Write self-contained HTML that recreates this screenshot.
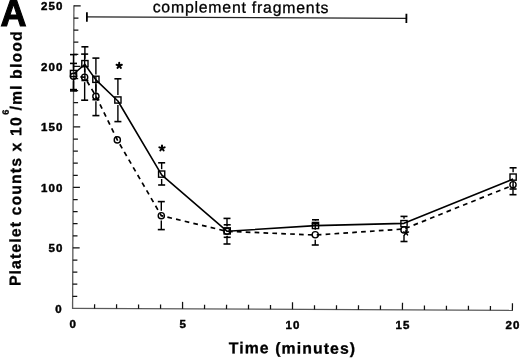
<!DOCTYPE html>
<html><head><meta charset="utf-8"><style>
html,body{margin:0;padding:0;background:#fff;}
svg{display:block;}
.ax{stroke:#5a5a5a;stroke-width:1.3;}
.tk{stroke:#111;stroke-width:1.25;}
.br{stroke:#222;stroke-width:1.2;}
.bv{stroke:#000;stroke-width:1.8;}
.eb{stroke:#000;stroke-width:1.4;}
.cap{stroke:#000;stroke-width:1.6;}
.solid{fill:none;stroke:#000;stroke-width:1.6;stroke-linejoin:round;}
.dash{fill:none;stroke:#000;stroke-width:1.7;stroke-dasharray:4.7 4.188;stroke-dashoffset:1.96;}
.mk{fill:none;stroke:#000;stroke-width:1.4;}
text{font-family:"Liberation Sans",Arial,sans-serif;fill:#000;}
.bigA{font-size:36px;font-weight:bold;stroke:#000;stroke-width:1.1px;}
.tl{font-size:11.5px;font-weight:bold;letter-spacing:1.1px;stroke:#000;stroke-width:0.45px;}
.xt{font-size:15.8px;font-weight:bold;letter-spacing:1.1px;stroke:#000;stroke-width:0.3px;}
.cf{font-size:15.8px;letter-spacing:0.8px;stroke:#000;stroke-width:0.3px;}
.yt{font-size:15.8px;font-weight:bold;letter-spacing:1.12px;stroke:#000;stroke-width:0.3px;}
.sup{font-size:9.2px;}
</style></head><body>
<svg width="520" height="359" viewBox="0 0 520 359">
<rect width="520" height="359" fill="#fff"/>
<g transform="translate(72.6,308.4) rotate(0.2475)">
<line x1="0" y1="0.6" x2="0" y2="-303.10" class="ax"/>
<line x1="-0.6" y1="0" x2="440.40" y2="0" class="ax"/>
<line x1="0" y1="-12.10" x2="4.60" y2="-12.10" class="tk"/>
<line x1="0" y1="-24.20" x2="4.60" y2="-24.20" class="tk"/>
<line x1="0" y1="-36.30" x2="4.60" y2="-36.30" class="tk"/>
<line x1="0" y1="-48.40" x2="4.60" y2="-48.40" class="tk"/>
<line x1="0" y1="-60.50" x2="6.80" y2="-60.50" class="tk"/>
<line x1="0" y1="-72.60" x2="4.60" y2="-72.60" class="tk"/>
<line x1="0" y1="-84.70" x2="4.60" y2="-84.70" class="tk"/>
<line x1="0" y1="-96.80" x2="4.60" y2="-96.80" class="tk"/>
<line x1="0" y1="-108.90" x2="4.60" y2="-108.90" class="tk"/>
<line x1="0" y1="-121.00" x2="6.80" y2="-121.00" class="tk"/>
<line x1="0" y1="-133.10" x2="4.60" y2="-133.10" class="tk"/>
<line x1="0" y1="-145.20" x2="4.60" y2="-145.20" class="tk"/>
<line x1="0" y1="-157.30" x2="4.60" y2="-157.30" class="tk"/>
<line x1="0" y1="-169.40" x2="4.60" y2="-169.40" class="tk"/>
<line x1="0" y1="-181.50" x2="6.80" y2="-181.50" class="tk"/>
<line x1="0" y1="-193.60" x2="4.60" y2="-193.60" class="tk"/>
<line x1="0" y1="-205.70" x2="4.60" y2="-205.70" class="tk"/>
<line x1="0" y1="-217.80" x2="4.60" y2="-217.80" class="tk"/>
<line x1="0" y1="-229.90" x2="4.60" y2="-229.90" class="tk"/>
<line x1="0" y1="-242.00" x2="6.80" y2="-242.00" class="tk"/>
<line x1="0" y1="-254.10" x2="4.60" y2="-254.10" class="tk"/>
<line x1="0" y1="-266.20" x2="4.60" y2="-266.20" class="tk"/>
<line x1="0" y1="-278.30" x2="4.60" y2="-278.30" class="tk"/>
<line x1="0" y1="-290.40" x2="4.60" y2="-290.40" class="tk"/>
<line x1="0" y1="-302.50" x2="6.80" y2="-302.50" class="tk"/>
<line x1="21.99" y1="0" x2="21.99" y2="-4.30" class="tk"/>
<line x1="43.98" y1="0" x2="43.98" y2="-4.30" class="tk"/>
<line x1="65.97" y1="0" x2="65.97" y2="-4.30" class="tk"/>
<line x1="87.96" y1="0" x2="87.96" y2="-4.30" class="tk"/>
<line x1="109.95" y1="0" x2="109.95" y2="-7.00" class="tk"/>
<line x1="131.94" y1="0" x2="131.94" y2="-4.30" class="tk"/>
<line x1="153.93" y1="0" x2="153.93" y2="-4.30" class="tk"/>
<line x1="175.92" y1="0" x2="175.92" y2="-4.30" class="tk"/>
<line x1="197.91" y1="0" x2="197.91" y2="-4.30" class="tk"/>
<line x1="219.90" y1="0" x2="219.90" y2="-7.00" class="tk"/>
<line x1="241.89" y1="0" x2="241.89" y2="-4.30" class="tk"/>
<line x1="263.88" y1="0" x2="263.88" y2="-4.30" class="tk"/>
<line x1="285.87" y1="0" x2="285.87" y2="-4.30" class="tk"/>
<line x1="307.86" y1="0" x2="307.86" y2="-4.30" class="tk"/>
<line x1="329.85" y1="0" x2="329.85" y2="-7.00" class="tk"/>
<line x1="351.84" y1="0" x2="351.84" y2="-4.30" class="tk"/>
<line x1="373.83" y1="0" x2="373.83" y2="-4.30" class="tk"/>
<line x1="395.82" y1="0" x2="395.82" y2="-4.30" class="tk"/>
<line x1="417.81" y1="0" x2="417.81" y2="-4.30" class="tk"/>
<line x1="439.80" y1="0" x2="439.80" y2="-7.00" class="tk"/>
<line x1="13.04" y1="-291.50" x2="332.54" y2="-291.50" class="br"/>
<line x1="13.04" y1="-296.20" x2="13.04" y2="-286.80" class="bv"/>
<line x1="332.54" y1="-296.20" x2="332.54" y2="-286.80" class="bv"/>
</g>
<line x1="73.50" y1="54.60" x2="73.50" y2="68.60" class="eb"/>
<line x1="73.50" y1="78.40" x2="73.50" y2="90.90" class="eb"/>
<line x1="70.00" y1="54.60" x2="77.00" y2="54.60" class="cap"/>
<line x1="70.00" y1="90.90" x2="77.00" y2="90.90" class="cap"/>
<line x1="84.90" y1="46.80" x2="84.90" y2="58.75" class="eb"/>
<line x1="84.90" y1="68.55" x2="84.90" y2="80.50" class="eb"/>
<line x1="81.40" y1="46.80" x2="88.40" y2="46.80" class="cap"/>
<line x1="81.40" y1="80.50" x2="88.40" y2="80.50" class="cap"/>
<line x1="95.90" y1="58.10" x2="95.90" y2="74.40" class="eb"/>
<line x1="95.90" y1="84.20" x2="95.90" y2="99.70" class="eb"/>
<line x1="92.40" y1="58.10" x2="99.40" y2="58.10" class="cap"/>
<line x1="92.40" y1="99.70" x2="99.40" y2="99.70" class="cap"/>
<line x1="117.90" y1="78.80" x2="117.90" y2="95.10" class="eb"/>
<line x1="117.90" y1="104.90" x2="117.90" y2="121.60" class="eb"/>
<line x1="114.40" y1="78.80" x2="121.40" y2="78.80" class="cap"/>
<line x1="114.40" y1="121.60" x2="121.40" y2="121.60" class="cap"/>
<line x1="161.65" y1="162.80" x2="161.65" y2="169.20" class="eb"/>
<line x1="161.65" y1="179.00" x2="161.65" y2="185.00" class="eb"/>
<line x1="158.15" y1="162.80" x2="165.15" y2="162.80" class="cap"/>
<line x1="158.15" y1="185.00" x2="165.15" y2="185.00" class="cap"/>
<line x1="227.20" y1="224.80" x2="227.20" y2="226.00" class="eb"/>
<line x1="227.20" y1="235.80" x2="227.20" y2="237.30" class="eb"/>
<line x1="223.70" y1="224.80" x2="230.70" y2="224.80" class="cap"/>
<line x1="223.70" y1="237.30" x2="230.70" y2="237.30" class="cap"/>
<line x1="315.50" y1="219.80" x2="315.50" y2="220.60" class="eb"/>
<line x1="312.00" y1="219.80" x2="319.00" y2="219.80" class="cap"/>
<line x1="404.00" y1="216.40" x2="404.00" y2="218.75" class="eb"/>
<line x1="400.50" y1="216.40" x2="407.50" y2="216.40" class="cap"/>
<line x1="513.10" y1="167.80" x2="513.10" y2="172.20" class="eb"/>
<line x1="513.10" y1="182.00" x2="513.10" y2="189.00" class="eb"/>
<line x1="509.60" y1="167.80" x2="516.60" y2="167.80" class="cap"/>
<line x1="509.60" y1="189.00" x2="516.60" y2="189.00" class="cap"/>
<line x1="73.50" y1="63.40" x2="73.50" y2="71.40" class="eb"/>
<line x1="73.50" y1="81.20" x2="73.50" y2="89.60" class="eb"/>
<line x1="70.00" y1="63.40" x2="77.00" y2="63.40" class="cap"/>
<line x1="70.00" y1="89.60" x2="77.00" y2="89.60" class="cap"/>
<line x1="84.65" y1="54.10" x2="84.65" y2="72.35" class="eb"/>
<line x1="84.65" y1="82.15" x2="84.65" y2="100.20" class="eb"/>
<line x1="81.15" y1="54.10" x2="88.15" y2="54.10" class="cap"/>
<line x1="81.15" y1="100.20" x2="88.15" y2="100.20" class="cap"/>
<line x1="95.90" y1="76.50" x2="95.90" y2="91.40" class="eb"/>
<line x1="95.90" y1="101.20" x2="95.90" y2="115.60" class="eb"/>
<line x1="92.40" y1="115.60" x2="99.40" y2="115.60" class="cap"/>
<line x1="161.30" y1="201.60" x2="161.30" y2="210.80" class="eb"/>
<line x1="161.30" y1="220.60" x2="161.30" y2="229.60" class="eb"/>
<line x1="157.80" y1="201.60" x2="164.80" y2="201.60" class="cap"/>
<line x1="157.80" y1="229.60" x2="164.80" y2="229.60" class="cap"/>
<line x1="227.00" y1="218.40" x2="227.00" y2="226.40" class="eb"/>
<line x1="227.00" y1="236.20" x2="227.00" y2="244.00" class="eb"/>
<line x1="223.50" y1="218.40" x2="230.50" y2="218.40" class="cap"/>
<line x1="223.50" y1="244.00" x2="230.50" y2="244.00" class="cap"/>
<line x1="315.25" y1="223.80" x2="315.25" y2="229.85" class="eb"/>
<line x1="315.25" y1="239.65" x2="315.25" y2="245.00" class="eb"/>
<line x1="311.75" y1="223.80" x2="318.75" y2="223.80" class="cap"/>
<line x1="311.75" y1="245.00" x2="318.75" y2="245.00" class="cap"/>
<line x1="404.00" y1="234.90" x2="404.00" y2="241.50" class="eb"/>
<line x1="400.50" y1="241.50" x2="407.50" y2="241.50" class="cap"/>
<line x1="513.00" y1="189.60" x2="513.00" y2="194.70" class="eb"/>
<line x1="509.50" y1="194.70" x2="516.50" y2="194.70" class="cap"/>
<polyline class="solid" points="73.50,74.00 84.90,64.45 95.90,79.90 117.90,101.00 161.65,174.90 227.20,231.30 315.50,225.60 404.00,223.35 513.10,179.10"/>
<polyline class="dash" points="73.50,76.30 84.65,77.25 95.90,96.10 117.30,139.90 161.30,215.70 227.00,231.30 315.25,235.05 404.00,229.00 513.00,185.20"/>
<rect x="70.40" y="70.40" width="6.2" height="6.2" class="mk"/>
<rect x="81.80" y="60.55" width="6.2" height="6.2" class="mk"/>
<rect x="92.80" y="76.20" width="6.2" height="6.2" class="mk"/>
<rect x="114.80" y="96.90" width="6.2" height="6.2" class="mk"/>
<rect x="158.55" y="171.00" width="6.2" height="6.2" class="mk"/>
<rect x="224.10" y="227.80" width="6.2" height="6.2" class="mk"/>
<rect x="312.40" y="222.40" width="6.2" height="6.2" class="mk"/>
<rect x="400.90" y="220.55" width="6.2" height="6.2" class="mk"/>
<rect x="510.00" y="174.00" width="6.2" height="6.2" class="mk"/>
<circle cx="73.50" cy="76.30" r="3.1" class="mk"/>
<circle cx="84.65" cy="77.25" r="3.1" class="mk"/>
<circle cx="95.90" cy="96.30" r="3.1" class="mk"/>
<circle cx="117.30" cy="139.90" r="3.1" class="mk"/>
<circle cx="161.30" cy="215.70" r="3.1" class="mk"/>
<circle cx="227.00" cy="231.30" r="3.1" class="mk"/>
<circle cx="315.25" cy="234.75" r="3.1" class="mk"/>
<circle cx="404.00" cy="230.00" r="3.1" class="mk"/>
<circle cx="513.00" cy="184.70" r="3.1" class="mk"/>
<path d="M119.20,65.60L119.20,62.80M119.20,65.60L121.86,64.73M119.20,65.60L120.85,67.87M119.20,65.60L117.55,67.87M119.20,65.60L116.54,64.73" stroke="#000" stroke-width="2.0" stroke-linecap="round" fill="none"/>
<path d="M162.00,148.20L162.00,145.40M162.00,148.20L164.66,147.33M162.00,148.20L163.65,150.47M162.00,148.20L160.35,150.47M162.00,148.20L159.34,147.33" stroke="#000" stroke-width="2.0" stroke-linecap="round" fill="none"/>
<path d="M406.00,232.80L406.00,230.20M406.00,232.80L408.47,232.00M406.00,232.80L407.53,234.90M406.00,232.80L404.47,234.90M406.00,232.80L403.53,232.00" stroke="#000" stroke-width="1.5" stroke-linecap="round" fill="none"/>
<text x="0.6" y="25.9" class="bigA">A</text>
<text x="62.8" y="313.00" class="tl" text-anchor="end">0</text>
<text x="63.6" y="252.00" class="tl" text-anchor="end">50</text>
<text x="63.6" y="191.50" class="tl" text-anchor="end">100</text>
<text x="63.6" y="131.00" class="tl" text-anchor="end">150</text>
<text x="63.6" y="70.50" class="tl" text-anchor="end">200</text>
<text x="63.6" y="10.00" class="tl" text-anchor="end">250</text>
<text x="73.20" y="328.20" class="tl" text-anchor="middle">0</text>
<text x="183.15" y="328.43" class="tl" text-anchor="middle">5</text>
<text x="293.10" y="328.65" class="tl" text-anchor="middle">10</text>
<text x="403.05" y="328.88" class="tl" text-anchor="middle">15</text>
<text x="513.00" y="329.10" class="tl" text-anchor="middle">20</text>
<text x="292.5" y="353.5" class="xt" text-anchor="middle" transform="rotate(0.25 292.5 348)">Time (minutes)</text>
<text x="241" y="12.7" class="cf" text-anchor="middle" transform="rotate(0.25 241 8)">complement fragments</text>
<text transform="translate(20.6,286.1) rotate(-89.75)" class="yt">Platelet counts x 10<tspan dy="-12.7" dx="1.5" class="sup">6</tspan><tspan dy="12.7" dx="-2.1">/ml blood</tspan></text>
</svg>
</body></html>
